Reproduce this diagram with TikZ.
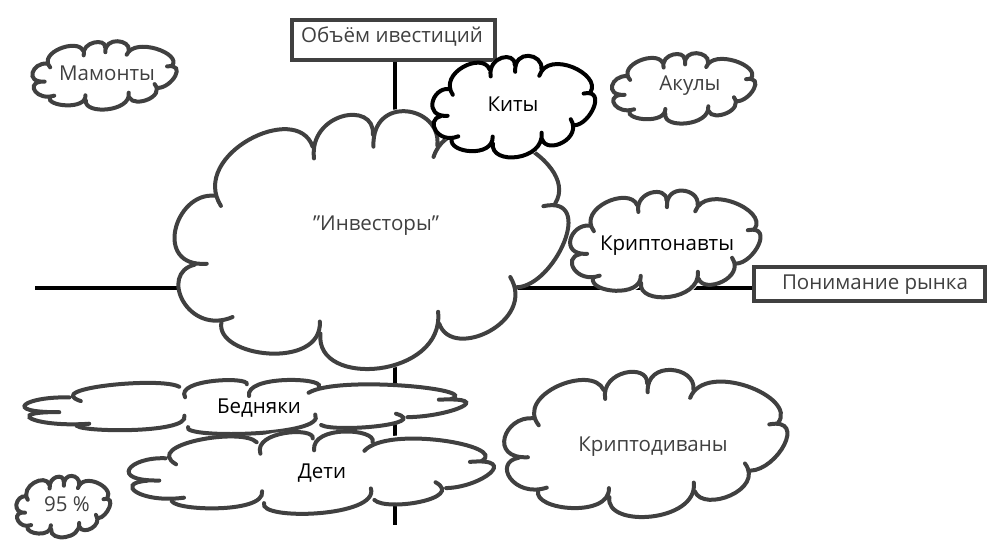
\documentclass[tikz,border=0pt]{standalone}
\usepackage{fontspec}
\setmainfont{Open Sans}
\usetikzlibrary{calc}
\definecolor{ink}{RGB}{64,64,64}
\tikzset{
  cloudline/.style={line width=4pt, line cap=round},
  txt/.style={inner sep=0pt, text=ink, font=\fontsize{20.5}{24}\selectfont},
  btxt/.style={txt, text=black},
  labelbox/.style={draw=ink, fill=white, line width=4pt, inner sep=0pt, text=ink,
    font=\fontsize{20.5}{24}\selectfont},
  axis/.style={line width=4pt, draw=black}
}
% cloud template stretched to box: #1 left, #2 top, #3 width, #4 height, #5 colour, #6 tick length
\newcommand\cloudtpl[6]{%
  \begin{scope}[shift={(#1,#2)}, xscale=#3, yscale=#4]
    \coordinate (J1) at (0.1035,0.3166);  \coordinate (A1) at (0.1894,0.0927);
    \coordinate (J2) at (0.3535,0.1236);  \coordinate (A2) at (0.4293,0.0);
    \coordinate (J3) at (0.5076,0.0772);  \coordinate (A3) at (0.5934,-0.02);
    \coordinate (J4) at (0.6717,0.1197);  \coordinate (A4) at (0.8662,0.0927);
    \coordinate (J5) at (0.9722,0.3475);  \coordinate (A5) at (1.0,0.498);
    \coordinate (J6) at (0.8737,0.6757);  \coordinate (A6) at (0.8081,0.8533);
    \coordinate (J7) at (0.6768,0.8185);  \coordinate (A7) at (0.5253,1.0);
    \coordinate (J8) at (0.3737,0.8571);  \coordinate (A8) at (0.2424,0.9421);
    \coordinate (J9) at (0.1212,0.8108);  \coordinate (A9) at (0.0202,0.7336);
    \coordinate (J10) at (0.053,0.5869);  \coordinate (A10) at (0.0,0.4517);
  \end{scope}
  \fill[white] (J1) \foreach \a/\m/\b in {J1/A1/J2,J2/A2/J3,J3/A3/J4,J4/A4/J5,J5/A5/J6,J6/A6/J7,J7/A7/J8,J8/A8/J9,J9/A9/J10,J10/A10/J1}{
    .. controls ($0.383*(\a)+1.333*(\m)-0.717*(\b)$) and ($0.383*(\b)+1.333*(\m)-0.717*(\a)$) .. (\b) } -- cycle;
  \foreach \a/\m/\b in {J1/A1/J2,J2/A2/J3,J3/A3/J4,J4/A4/J5,J5/A5/J6,J6/A6/J7,J7/A7/J8,J8/A8/J9,J9/A9/J10,J10/A10/J1}{
    \draw[cloudline, draw=#5, shorten <=-#6pt] (\a) .. controls ($0.383*(\a)+1.333*(\m)-0.717*(\b)$) and ($0.383*(\b)+1.333*(\m)-0.717*(\a)$) .. (\b);
  }%
}
\begin{document}
\begin{tikzpicture}[x=1pt,y=-1pt]
\useasboundingbox (0,0) rectangle (997,556);
% label boxes
\node[labelbox, minimum width=203, minimum height=40] (vol) at (393.5,40) {};
\node[txt] (volt) at (392,37) {Объём ивестиций};
\node[labelbox, minimum width=231, minimum height=34] (mkt) at (869.5,284) {};
\node[txt] (mktt) at (875,285) {Понимание рынка};
\coordinate (xl) at (35,288);
\coordinate (yb) at (395,525);
% axes
\draw[axis] (xl) -- (xl -| mkt.west);
\draw[axis] (vol.south -| yb) -- (yb);
% clouds
\cloudtpl{174}{115}{392}{255}{ink}{12}
\node[txt] (inv) at (376,226) {\symbol{34}Инвесторы\symbol{34}};
\cloudtpl{432}{57}{163}{101}{black}{7}
\node[btxt] (kit) at (513,104) {Киты};
\cloudtpl{570}{192}{190}{106}{ink}{7}
\node[btxt] (nav) at (667,246) {Криптонавты};
\cloudtpl{32}{42}{144}{68}{ink}{5}
\node[txt] (mam) at (107,73) {Мамонты};
\cloudtpl{612}{54}{143}{70}{ink}{5}
\node[txt] (aku) at (690,86) {Акулы};
\cloudtpl{24}{380}{439}{55}{ink}{12}
\node[btxt] (bed) at (259,408) {Бедняки};
\cloudtpl{128}{432}{364}{83}{ink}{12}
\node[btxt] (det) at (322,473) {Дети};
\cloudtpl{16}{477}{94}{61}{ink}{4}
\node[txt] (p95) at (67,504) {95 \%};
\cloudtpl{504}{372}{282}{146}{ink}{9}
\node[txt] (div) at (653,447) {Криптодиваны};
\end{tikzpicture}
\end{document}
